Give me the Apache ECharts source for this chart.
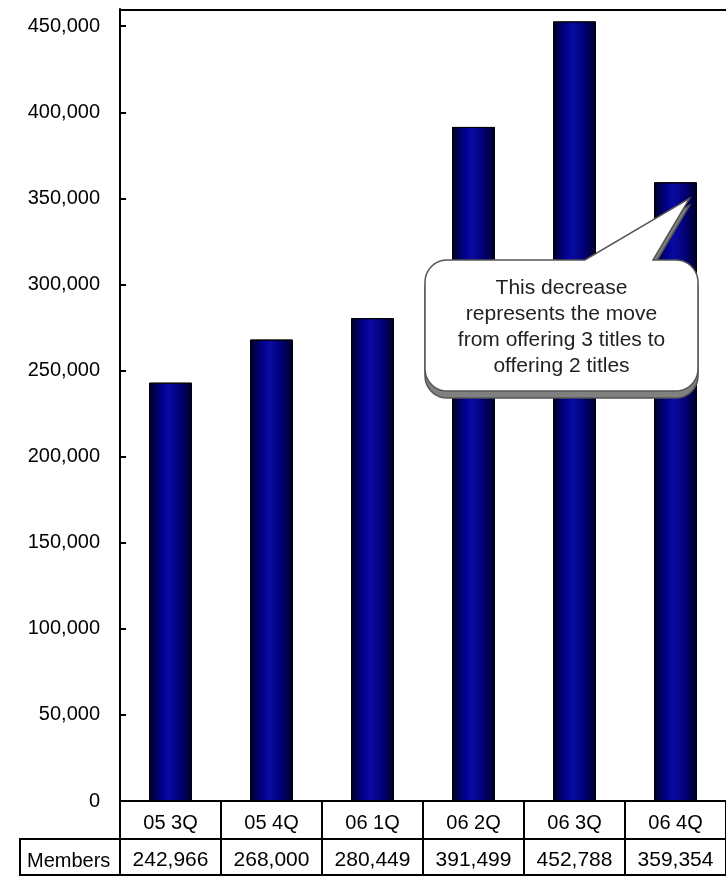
<!DOCTYPE html>
<html>
<head>
<meta charset="utf-8">
<script src="https://cdn.jsdelivr.net/npm/echarts@6/dist/echarts.min.js"></script>
<style>
html,body{margin:0;padding:0;background:#fff;}
#chart{width:726px;height:876px;}
</style>
</head>
<body>
<div id="chart"></div>
<script>
var categories = ['05 3Q', '05 4Q', '06 1Q', '06 2Q', '06 3Q', '06 4Q'];
var members = [242966, 268000, 280449, 391499, 452788, 359354];
var rowLabel = 'Members';
var calloutText = ['This decrease', 'represents the move', 'from offering 3 titles to', 'offering 2 titles'];

var FONT = '"Liberation Sans", Arial, sans-serif';
function fmt(v){ return Number(v).toLocaleString('en-US'); }

var chart = echarts.init(document.getElementById('chart'), null, {renderer:'canvas'});

var GRID_LEFT = 120, GRID_TOP = 9, GRID_H = 792;

var option = {
  animation: false,
  backgroundColor: '#fff',
  grid: { left: GRID_LEFT, right: 0, top: GRID_TOP, height: GRID_H, containLabel: false },
  xAxis: [
    {
      type: 'category', data: categories, position: 'bottom',
      axisLine: { show: true, lineStyle: { color: '#000', width: 2 } },
      axisTick: { show: true, interval: 0, length: 75, lineStyle: { color: '#000', width: 2 } },
      axisLabel: { interval: 0, color: '#000', fontSize: 20, fontFamily: FONT, margin: 12 },
      splitLine: { show: false }
    },
    {
      type: 'category', data: members.map(fmt), position: 'bottom', offset: 38,
      axisLine: { show: true, lineStyle: { color: '#000', width: 2 } },
      axisTick: { show: false },
      axisLabel: { interval: 0, color: '#000', fontSize: 21, fontFamily: FONT, margin: 11 },
      splitLine: { show: false }
    }
  ],
  yAxis: {
    type: 'value', min: 0, max: 460000, interval: 50000,
    axisLine: { show: true, lineStyle: { color: '#000', width: 2 } },
    axisTick: { show: true, inside: true, length: 6, lineStyle: { color: '#000', width: 2 } },
    axisLabel: { color: '#000', fontSize: 20, fontFamily: FONT, margin: 20, showMaxLabel: false, formatter: fmt, padding: [5, 0, 0, 0] },
    splitLine: { show: false }
  },
  series: [{
    type: 'bar', xAxisIndex: 0, data: members, barWidth: 43,
    itemStyle: {
      borderColor: '#000', borderWidth: 1,
      color: { type: 'linear', x: 0, y: 0, x2: 1, y2: 0, colorStops: [
        { offset: 0, color: '#000024' },
        { offset: 0.3, color: '#00008e' },
        { offset: 0.45, color: '#0a0aa4' },
        { offset: 0.75, color: '#000070' },
        { offset: 1, color: '#000026' }
      ]}
    }
  }]
};
chart.setOption(option);

// callout anchored at the last bar's top
var tip = chart.convertToPixel({ xAxisIndex: 0, yAxisIndex: 0 }, [categories.length - 1, members[members.length - 1]]);
var tx = tip[0] + 14, ty = tip[1] + 16;
var L = 425, R = 698, T = 260, B = 391, r = 22;

function arcPts(cx, cy, a0, a1, n){
  var pts = [];
  for (var i = 0; i <= n; i++) {
    var a = a0 + (a1 - a0) * i / n;
    pts.push([cx + r * Math.cos(a), cy + r * Math.sin(a)]);
  }
  return pts;
}
var P = Math.PI;
var pts = [];
pts.push([L + r, T], [585, T], [tx, ty], [653, T], [R - r, T]);
pts = pts.concat(arcPts(R - r, T + r, -P / 2, 0, 10));
pts.push([R, B - r]);
pts = pts.concat(arcPts(R - r, B - r, 0, P / 2, 10));
pts.push([L + r, B]);
pts = pts.concat(arcPts(L + r, B - r, P / 2, P, 10));
pts.push([L, T + r]);
pts = pts.concat(arcPts(L + r, T + r, P, 1.5 * P, 10));
var shadowPts = pts.map(function(p){ return [p[0], p[1] + 7]; });

chart.setOption({
  graphic: [
    { type: 'line', shape: { x1: GRID_LEFT, y1: GRID_TOP + 1, x2: 726, y2: GRID_TOP + 1 }, style: { stroke: '#000', lineWidth: 2 }, z: 10 },
    { type: 'line', shape: { x1: 20, y1: 839, x2: GRID_LEFT, y2: 839 }, style: { stroke: '#000', lineWidth: 2 }, z: 10 },
    { type: 'line', shape: { x1: 20, y1: 875, x2: 726, y2: 875 }, style: { stroke: '#000', lineWidth: 2 }, z: 10 },
    { type: 'line', shape: { x1: 20, y1: 838, x2: 20, y2: 876 }, style: { stroke: '#000', lineWidth: 2 }, z: 10 },
    { type: 'text', x: 27, y: 861, style: { text: rowLabel, font: '20px ' + FONT, fill: '#000', textAlign: 'left', textVerticalAlign: 'middle' }, z: 10 },
    { type: 'polygon', shape: { points: shadowPts }, style: { fill: '#808080', stroke: '#555', lineWidth: 1.5 }, z: 20 },
    { type: 'polygon', shape: { points: pts }, style: { fill: '#fff', stroke: '#555', lineWidth: 1.5 }, z: 21 },
    { type: 'text', x: (L + R) / 2, y: 327, style: { text: calloutText.join('\n'), font: '21px ' + FONT, fill: '#222', textAlign: 'center', textVerticalAlign: 'middle', lineHeight: 26 }, z: 22 }
  ]
});
</script>
</body>
</html>
